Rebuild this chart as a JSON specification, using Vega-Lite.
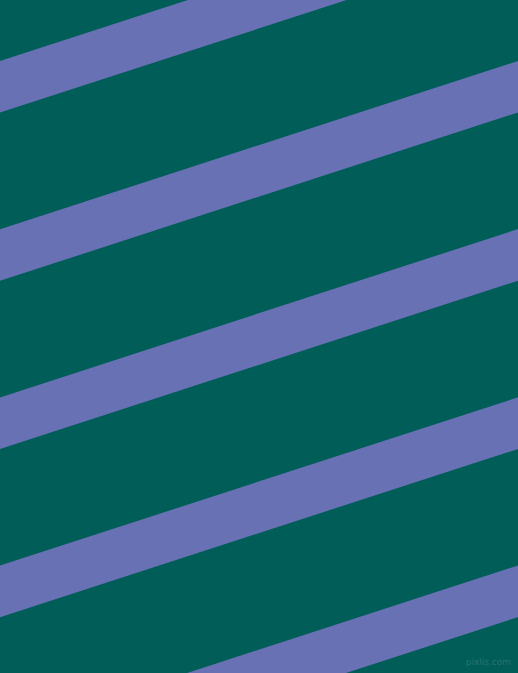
{
  "$schema": "https://vega.github.io/schema/vega-lite/v6.json",
  "width": 518,
  "height": 673,
  "padding": 0,
  "autosize": {"type": "fit", "contains": "padding"},
  "background": "#005d58",
  "config": {"view": {"stroke": null}},
  "layer": [
    {
      "data": {
        "values": [
          {"stripe": 0, "x": 0, "top": 61.0, "bottom": 112.6},
          {"stripe": 0, "x": 518, "top": -107.3, "bottom": -55.7},
          {"stripe": 1, "x": 0, "top": 229.2, "bottom": 280.8},
          {"stripe": 1, "x": 518, "top": 60.9, "bottom": 112.5},
          {"stripe": 2, "x": 0, "top": 397.4, "bottom": 449.0},
          {"stripe": 2, "x": 518, "top": 229.1, "bottom": 280.7},
          {"stripe": 3, "x": 0, "top": 565.6, "bottom": 617.2},
          {"stripe": 3, "x": 518, "top": 397.3, "bottom": 448.9},
          {"stripe": 4, "x": 0, "top": 733.8, "bottom": 785.4},
          {"stripe": 4, "x": 518, "top": 565.5, "bottom": 617.1}
        ]
      },
      "mark": {"type": "area", "clip": true, "color": "#6971b5", "interpolate": "linear"},
      "encoding": {
        "x": {"field": "x", "type": "quantitative", "scale": {"domain": [0, 518], "nice": false, "zero": false}, "axis": null},
        "y": {"field": "top", "type": "quantitative", "scale": {"domain": [0, 673], "reverse": true, "nice": false, "zero": false}, "axis": null},
        "y2": {"field": "bottom"},
        "detail": {"field": "stripe"}
      }
    },
    {
      "data": {"values": [{"x": 511, "y": 662, "label": "pixlis.com"}]},
      "mark": {"type": "text", "align": "right", "baseline": "middle", "fontSize": 9, "font": "DejaVu Sans", "color": "#2b7271"},
      "encoding": {
        "x": {"field": "x", "type": "quantitative"},
        "y": {"field": "y", "type": "quantitative"},
        "text": {"field": "label"}
      }
    }
  ]
}
